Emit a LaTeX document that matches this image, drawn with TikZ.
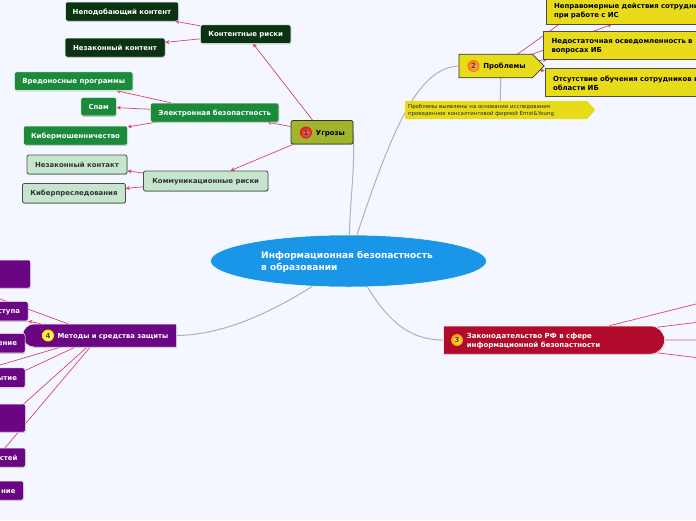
\documentclass[tikz,border=0pt]{standalone}
\usepackage{fontspec}
\setmainfont{DejaVu Sans}
\usetikzlibrary{%
  arrows.meta,
  shapes.geometric,shapes.misc,shapes.symbols,
  shadows
}
\definecolor{pagebg}{HTML}{F4F7FF}
\definecolor{linkred}{HTML}{D8456C}
\definecolor{rootblue}{HTML}{1A96E8}
\definecolor{darkleaf}{HTML}{0A3312}
\definecolor{midleaf}{HTML}{1B8A3B}
\definecolor{paleleaf}{HTML}{C5E6CC}
\definecolor{threatolive}{HTML}{A0B52C}
\definecolor{problemyellow}{HTML}{E8DC1A}
\definecolor{lawred}{HTML}{B10A2A}
\definecolor{methodpurple}{HTML}{6A0583}
\pgfdeclarelayer{edges}
\pgfsetlayers{edges,main}
\newcommand\toppad[1]{\rule{0pt}{#1}}
\tikzset{
  box/.style={draw=white,line width=0.5pt,rounded corners=2pt,font=\bfseries\fontsize{6.95}{9}\selectfont,
    inner sep=0pt,align=center,drop shadow={shadow xshift=0.5pt,shadow yshift=-0.8pt,opacity=0.45}},
  oneline/.style={text height=7pt,text depth=1.5pt},
  darkbox/.style={box,oneline,fill=darkleaf,text=white},
  midbox/.style={box,oneline,fill=midleaf,text=white},
  palebox/.style={box,oneline,fill=paleleaf,draw=black!70,line width=0.8pt,text=black!80},
  yellowbox/.style={box,fill=problemyellow,draw=black!70,line width=0.8pt,rounded corners=0pt,
    text=black,align=left,text width=192pt,minimum height=28pt,inner xsep=8pt},
  purplebox/.style={box,oneline,fill=methodpurple,text=white,align=right},
  badge/.style={circle,minimum size=12pt,inner sep=0pt,shading=radial,font=\bfseries\fontsize{7}{7}\selectfont,text=black!75},
  link/.style={linkred,line width=0.7pt,-{Stealth[length=4pt,width=4pt]}},
  branch/.style={gray!60,line width=1pt}
}
\begin{document}
\begin{tikzpicture}[x=1pt,y=-1pt]
  \clip (0,0) rectangle (696,520);
  \begin{pgfonlayer}{edges}
    \fill[pagebg] (0,0) rectangle (696,520);
  \end{pgfonlayer}

  \node[ellipse,fill=rootblue,draw=white,line width=0.5pt,minimum width=276pt,minimum height=52pt,inner sep=0pt,
    text=white,font=\bfseries\fontsize{9.05}{11.2}\selectfont,align=left] (root) at (348.5,261) {\hspace*{-3pt}\toppad{9pt}Информационная безопастность\\\hspace*{-3pt}в образовании};

  % threats
  \node[box,oneline,fill=threatolive,draw=black!80,line width=0.8pt,minimum width=62pt,minimum height=23.5pt,text=black] (threat) at (322,132.3) {\hspace*{17pt}Угрозы};
  \node[badge,inner color=red!55!white,outer color=red!85!black!90] (threatnum) at (306,132.5) {1};
  \node[darkbox,minimum width=90.5pt,minimum height=18.5pt] (content) at (245.7,34.2) {Контентные риски};
  \node[darkbox,minimum width=113pt,minimum height=19pt] (unfit) at (122,11.5) {Неподобающий контент};
  \node[darkbox,minimum width=100pt,minimum height=19pt] (illegal) at (115,47.5) {Незаконный контент};
  \node[midbox,minimum width=128.5pt,minimum height=19pt] (esafe) at (214.7,112.5) {Электронная безопастность};
  \node[midbox,minimum width=118.5pt,minimum height=18.5pt] (malware) at (73.7,81.2) {Вредоносные программы};
  \node[midbox,minimum width=35.5pt,minimum height=18.5pt] (spam) at (98.7,106.7) {Спам};
  \node[midbox,minimum width=104pt,minimum height=19pt] (fraud) at (75.5,135.5) {Кибермошенничество};
  \node[palebox,minimum width=124.5pt,minimum height=20pt] (comm) at (205.7,181) {Коммуникационные риски};
  \node[palebox,minimum width=100pt,minimum height=19pt] (contact) at (77,164.5) {Незаконный контакт};
  \node[palebox,minimum width=103pt,minimum height=19.5pt] (stalk) at (74,193.2) {Киберпреследования};

  % problems
  \node[signal,signal to=east,signal pointer angle=90,anchor=west,fill=problemyellow,draw=black!80,line width=0.8pt,text width=73.5pt,minimum height=23.5pt,
    inner sep=0pt,align=left,font=\bfseries\fontsize{6.95}{9}\selectfont] (problem) at (458.5,66) {\hspace*{24.5pt}\toppad{7pt}Проблемы};
  \node[badge,inner color=orange!50!white,outer color=orange!90!red] (problemnum) at (473.5,66) {2};
  \coordinate (problemhub) at (501,66);
  \node[yellowbox] (misuse) at (650,10) {\toppad{7.5pt}Неправомерные действия сотрудников\\при работе с ИС};
  \node[yellowbox] (aware) at (647.5,45) {\toppad{7.5pt}Недостаточная осведомленность в\\вопросах ИБ};
  \node[yellowbox] (training) at (649,82) {\toppad{7.5pt}Отсутствие обучения сотрудников в\\области ИБ};
  \node[signal,signal to=east,signal pointer angle=96,anchor=west,fill=problemyellow,text width=176pt,minimum height=18pt,inner xsep=3pt,inner ysep=0pt,
    align=left,font=\fontsize{5.4}{7}\selectfont,text=black!85] (note) at (405,110) {\toppad{5pt}Проблемы выявлены на основании исследования\\проведенное консалтинговой фирмой Ernst\&Young};
  \coordinate (notehub) at (500,110);
  \coordinate (hidden) at (600,-5);

  % law
  \node[rounded rectangle,rounded rectangle west arc=none,fill=lawred,draw=white,line width=0.5pt,minimum width=221pt,minimum height=28pt,inner sep=0pt,
    text=white,align=left,font=\bfseries\fontsize{7.04}{9}\selectfont,drop shadow={shadow xshift=0.5pt,shadow yshift=-0.8pt,opacity=0.45}] (law) at (552.5,340) {\hspace*{-38pt}\toppad{7pt}Законодательство РФ в сфере\\\hspace*{-38pt}информационной безопастности};
  \node[badge,inner color=yellow!60!white,outer color=orange!80!yellow] (lawnum) at (457,340) {3};
  \coordinate (lawa) at (700,303);
  \coordinate (lawb) at (700,322);
  \coordinate (lawc) at (700,340);
  \coordinate (lawd) at (700,358);

  % methods
  \node[rounded rectangle,rounded rectangle east arc=none,fill=methodpurple,draw=white,line width=0.5pt,minimum width=154pt,minimum height=23pt,inner sep=0pt,oneline,
    text=white,font=\bfseries\fontsize{6.82}{9}\selectfont,drop shadow={shadow xshift=0.5pt,shadow yshift=-0.8pt,opacity=0.45}] (method) at (100,335.5) {\hspace*{26pt}Методы и средства защиты};
  \node[badge,inner color=yellow!50!white,outer color=yellow!85!orange] (methodnum) at (48,335.5) {4};
  \node[purplebox,minimum width=197pt,minimum height=28pt] (mfirst) at (-68,274) {};
  \node[purplebox,minimum height=19.5pt,text width=84pt,inner xsep=8pt] (maccess) at (-22,311.2) {ступа};
  \node[purplebox,minimum height=19.5pt,text width=84pt,inner xsep=8pt] (mchange) at (-25,343.2) {ение};
  \node[purplebox,minimum height=19.5pt,text width=120pt,inner xsep=8pt] (mhide) at (-43,377.7) {ытие};
  \node[purplebox,minimum width=203pt,minimum height=28pt] (mlarge) at (-76,418) {};
  \node[purplebox,minimum height=19pt,text width=107pt,inner xsep=8pt] (mvuln) at (-36,457.5) {стей};
  \node[purplebox,minimum height=19pt,text width=93pt,inner xsep=8pt] (mlast) at (-31,490.5) {ние};

  \begin{pgfonlayer}{edges}
    \foreach \from/\to in {threat/content,threat/esafe,threat/comm,content/unfit,content/illegal,
      esafe/malware,esafe/spam,esafe/fraud,comm/contact,comm/stalk,
      problemhub/misuse,problemhub/aware,problemhub/training,problemhub/hidden,
      law/lawa,law/lawb,law/lawd,
      method/mfirst,method/maccess,method/mchange,method/mhide,method/mlarge,method/mvuln,method/mlast} {
      \draw[link] (\from) -- (\to);
    }
    \draw[linkred!50,line width=1.2pt] (law) -- (lawc);
    \draw[branch] (root.88) .. controls (350,200) and (355,170) .. (threat.east);
    \draw[branch] (root.72) .. controls (395,120) and (420,68) .. (problem.west);
    \draw[branch] (root.-54) .. controls (385,315) and (405,340) .. (law.west);
    \draw[branch] (root.215) .. controls (275,310) and (225,335) .. (method.east);
    \draw[branch] (problemhub) -- (notehub);
  \end{pgfonlayer}
\end{tikzpicture}
\end{document}
